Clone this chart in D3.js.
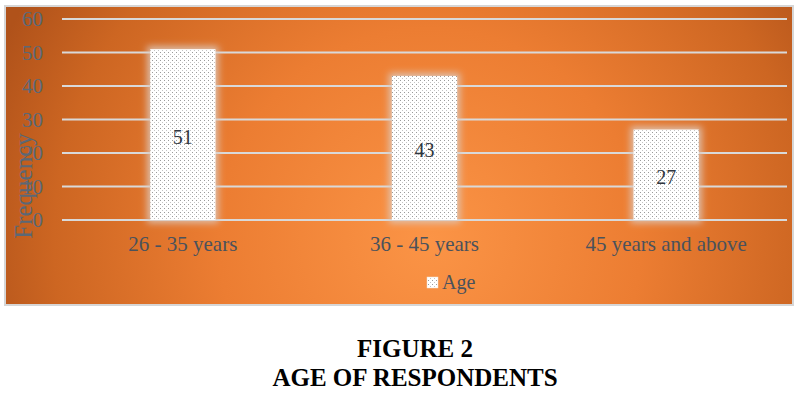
<!DOCTYPE html>
<html>
<head>
<meta charset="utf-8">
<script src="https://cdn.jsdelivr.net/npm/d3@7"></script>
<style>
  html, body { margin: 0; padding: 0; background: #fff; }
  svg { display: block; }
</style>
</head>
<body>
<div id="chart"></div>
<script>
var categories = ["26 - 35 years", "36 - 45 years", "45 years and above"],
	ageCounts = [51, 43, 27],
	yTicks = [0, 10, 20, 30, 40, 50, 60],
	seriesName = "Age",
	axisTitle = "Frequency",
	captionLines = ["FIGURE 2", "AGE OF RESPONDENTS"];

var width = 801, height = 395,
	serif = "'Liberation Serif', 'Times New Roman', serif",
	axisGrey = "#5a6876";

var svg = d3.select("#chart").append("svg")
	.attr("width", width)
	.attr("height", height);

var defs = svg.append("defs");

// orange background, lighter towards the lower middle
var bg = defs.append("radialGradient")
	.attr("id", "bgGrad")
	.attr("gradientUnits", "userSpaceOnUse")
	.attr("cx", 430).attr("cy", 240).attr("r", 470);
bg.append("stop").attr("offset", "0%").attr("stop-color", "#fb9446");
bg.append("stop").attr("offset", "45%").attr("stop-color", "#ec7d32");
bg.append("stop").attr("offset", "80%").attr("stop-color", "#cd6622");
bg.append("stop").attr("offset", "100%").attr("stop-color", "#b0521a");

// dotted fill for the bars
var dots = defs.append("pattern")
	.attr("id", "dots")
	.attr("patternUnits", "userSpaceOnUse")
	.attr("width", 4).attr("height", 4);
dots.append("rect").attr("width", 4).attr("height", 4).attr("fill", "#ffffff");
dots.append("rect").attr("x", 0).attr("y", 0).attr("width", 1).attr("height", 1).attr("fill", "#9a9a9a");
dots.append("rect").attr("x", 2).attr("y", 2).attr("width", 1).attr("height", 1).attr("fill", "#c4c4c4");

// soft pale glow around bars
var glow = defs.append("filter")
	.attr("id", "glow")
	.attr("x", "-40%").attr("y", "-20%")
	.attr("width", "180%").attr("height", "140%");
glow.append("feMorphology").attr("in", "SourceAlpha").attr("operator", "dilate").attr("radius", 3).attr("result", "grown");
glow.append("feGaussianBlur").attr("in", "grown").attr("stdDeviation", 3.5).attr("result", "blur");
glow.append("feFlood").attr("flood-color", "#dccbc0").attr("flood-opacity", 0.85);
glow.append("feComposite").attr("in2", "blur").attr("operator", "in").attr("result", "halo");
var merge = glow.append("feMerge");
merge.append("feMergeNode").attr("in", "halo");
merge.append("feMergeNode").attr("in", "SourceGraphic");

// chart frame
svg.append("rect")
	.attr("x", 5).attr("y", 6)
	.attr("width", 788).attr("height", 299)
	.attr("fill", "url(#bgGrad)")
	.attr("stroke", "#d6d6d6")
	.attr("stroke-width", 2);

var x = d3.scaleBand()
	.domain(categories)
	.range([62, 787])
	.paddingInner(0.73)
	.paddingOuter(0.365);

var y = d3.scaleLinear()
	.domain([0, 60])
	.range([220, 19]);

// gridlines
svg.append("g")
	.selectAll("line")
	.data(yTicks)
	.enter()
	.append("line")
	.attr("x1", 62).attr("x2", 787)
	.attr("y1", function (d) { return y(d); })
	.attr("y2", function (d) { return y(d); })
	.attr("stroke", "#d9d9d9")
	.attr("stroke-width", 2);

// y tick labels
svg.append("g")
	.selectAll("text")
	.data(yTicks)
	.enter()
	.append("text")
	.attr("x", 43)
	.attr("y", function (d) { return y(d); })
	.attr("dy", "0.35em")
	.attr("text-anchor", "end")
	.style("font-family", serif)
	.style("font-size", "21px")
	.style("fill", axisGrey)
	.text(function (d) { return d; });

// y axis title
svg.append("text")
	.attr("transform", "translate(32,186) rotate(-90)")
	.attr("text-anchor", "middle")
	.style("font-family", serif)
	.style("font-size", "25px")
	.style("fill", axisGrey)
	.text(axisTitle);

// bars
svg.append("g")
	.selectAll("rect")
	.data(ageCounts)
	.enter()
	.append("rect")
	.attr("x", function (d, i) { return x(categories[i]); })
	.attr("y", function (d) { return y(d); })
	.attr("width", x.bandwidth())
	.attr("height", function (d) { return y(0) - y(d); })
	.attr("fill", "url(#dots)")
	.attr("filter", "url(#glow)");

// data labels
svg.append("g")
	.selectAll("text")
	.data(ageCounts)
	.enter()
	.append("text")
	.attr("x", function (d, i) { return x(categories[i]) + x.bandwidth() / 2; })
	.attr("y", function (d) { return (y(d) + y(0)) / 2 + 2; })
	.attr("dy", "0.35em")
	.attr("text-anchor", "middle")
	.style("font-family", serif)
	.style("font-size", "20px")
	.style("fill", "#2f3640")
	.text(function (d) { return d; });

// x category labels
svg.append("g")
	.selectAll("text")
	.data(categories)
	.enter()
	.append("text")
	.attr("x", function (d) { return x(d) + x.bandwidth() / 2; })
	.attr("y", 251)
	.attr("text-anchor", "middle")
	.style("font-family", serif)
	.style("font-size", "21px")
	.style("fill", "#4a525c")
	.text(function (d) { return d; });

// legend
svg.append("rect")
	.attr("x", 427).attr("y", 277)
	.attr("width", 11).attr("height", 11)
	.attr("fill", "url(#dots)")
	.attr("stroke", "#f0e0d0")
	.attr("stroke-width", 0.5);
svg.append("text")
	.attr("x", 442).attr("y", 289)
	.style("font-family", serif)
	.style("font-size", "20px")
	.style("fill", "#4a525c")
	.text(seriesName);

// figure caption
svg.append("g")
	.selectAll("text")
	.data(captionLines)
	.enter()
	.append("text")
	.attr("x", 415)
	.attr("y", function (d, i) { return 357 + i * 29; })
	.attr("text-anchor", "middle")
	.style("font-family", serif)
	.style("font-size", "25px")
	.style("font-weight", "bold")
	.style("fill", "#000")
	.text(function (d) { return d; });
</script>
</body>
</html>
